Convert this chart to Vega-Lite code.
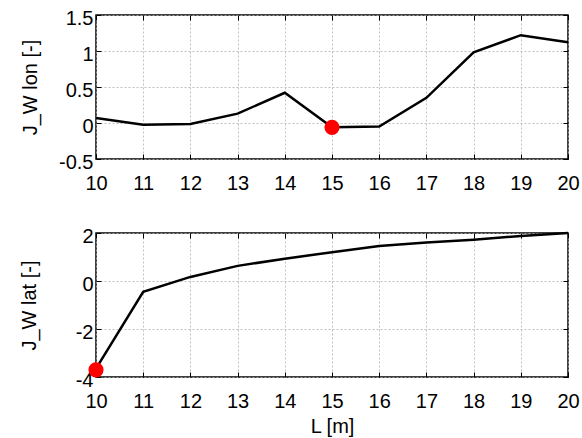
{
  "$schema": "https://vega.github.io/schema/vega-lite/v6.json",
  "background": "white",
  "padding": {"left": 18, "top": 7, "right": 5, "bottom": 2},
  "spacing": 31,
  "config": {
    "font": "Liberation Sans",
    "view": {"stroke": "black", "strokeWidth": 1.5},
    "axis": {
      "labelFont": "Liberation Sans", "labelFontSize": 20, "labelColor": "black",
      "titleFont": "Liberation Sans", "titleFontSize": 20, "titleFontWeight": "normal", "titleColor": "black",
      "domain": false, "tickColor": "black", "tickSize": -5, "tickWidth": 1,
      "grid": true, "gridColor": "#b0b0b0", "gridDash": [2, 2], "gridWidth": 0.8,
      "labelPadding": 9, "labelOverlap": false, "labelFlush": false, "labelBound": false, "tickCount": 30
    }
  },
  "datasets": {
    "lon": [
      {"L": 10, "J": 0.07}, {"L": 11, "J": -0.025}, {"L": 12, "J": -0.015},
      {"L": 13, "J": 0.13}, {"L": 14, "J": 0.42}, {"L": 15, "J": -0.06},
      {"L": 16, "J": -0.05}, {"L": 17, "J": 0.35}, {"L": 18, "J": 0.98},
      {"L": 19, "J": 1.22}, {"L": 20, "J": 1.12}
    ],
    "lat": [
      {"L": 10, "J": -3.65}, {"L": 11, "J": -0.45}, {"L": 12, "J": 0.17},
      {"L": 13, "J": 0.63}, {"L": 14, "J": 0.93}, {"L": 15, "J": 1.2},
      {"L": 16, "J": 1.46}, {"L": 17, "J": 1.6}, {"L": 18, "J": 1.72},
      {"L": 19, "J": 1.88}, {"L": 20, "J": 2.0}
    ],
    "lonMin": [{"L": 15, "J": -0.06}],
    "latMin": [{"L": 10, "J": -3.7}]
  },
  "vconcat": [
    {
      "width": 472, "height": 144,
      "resolve": {"axis": {"x": "independent", "y": "independent"}},
      "layer": [
        {
          "data": {"name": "lon"},
          "mark": {"type": "line", "color": "black", "strokeWidth": 2.5},
          "encoding": {
            "x": {"field": "L", "type": "quantitative", "scale": {"domain": [10, 20], "nice": false, "zero": false},
                  "axis": {"values": [10,11,12,13,14,15,16,17,18,19,20], "format": "~g", "tickCount": 30, "title": null, "labelOverlap": false, "labelFlush": false, "labelPadding": 19}},
            "y": {"field": "J", "type": "quantitative", "scale": {"domain": [-0.5, 1.5], "nice": false, "zero": false},
                  "axis": {"values": [-0.5, 0, 0.5, 1, 1.5], "format": "~g", "labelExpr": "replace(datum.label, '\u2212', '-')", "tickCount": 30, "title": "J_W lon [-]", "titlePadding": 18, "labelOverlap": false, "labelFlush": false, "labelPadding": 8, "labelOffset": 3}}
          }
        },
        {
          "data": {"name": "lonMin"},
          "mark": {"type": "point", "filled": true, "color": "red", "opacity": 1, "size": 230},
          "encoding": {
            "x": {"field": "L", "type": "quantitative",
                  "axis": {"orient": "top", "values": [10,11,12,13,14,15,16,17,18,19,20], "tickCount": 30, "labels": false, "grid": false, "title": null}},
            "y": {"field": "J", "type": "quantitative",
                  "axis": {"orient": "right", "values": [-0.5, 0, 0.5, 1, 1.5], "tickCount": 30, "labels": false, "grid": false, "title": null}}
          }
        }
      ]
    },
    {
      "width": 472, "height": 144,
      "resolve": {"axis": {"x": "independent", "y": "independent"}},
      "layer": [
        {
          "data": {"name": "lat"},
          "mark": {"type": "line", "color": "black", "strokeWidth": 2.5},
          "encoding": {
            "x": {"field": "L", "type": "quantitative", "scale": {"domain": [10, 20], "nice": false, "zero": false},
                  "axis": {"values": [10,11,12,13,14,15,16,17,18,19,20], "format": "~g", "tickCount": 30, "title": "L [m]", "titlePadding": 5, "labelOverlap": false, "labelFlush": false, "labelPadding": 19}},
            "y": {"field": "J", "type": "quantitative", "scale": {"domain": [-4, 2], "nice": false, "zero": false},
                  "axis": {"values": [-4, -2, 0, 2], "format": "~g", "labelExpr": "replace(datum.label, '\u2212', '-')", "tickCount": 30, "title": "J_W lat [-]", "titlePadding": 36, "labelOverlap": false, "labelFlush": false, "labelPadding": 8, "labelOffset": 3}}
          }
        },
        {
          "data": {"name": "latMin"},
          "mark": {"type": "point", "filled": true, "color": "red", "opacity": 1, "size": 230, "clip": false},
          "encoding": {
            "x": {"field": "L", "type": "quantitative",
                  "axis": {"orient": "top", "values": [10,11,12,13,14,15,16,17,18,19,20], "tickCount": 30, "labels": false, "grid": false, "title": null}},
            "y": {"field": "J", "type": "quantitative",
                  "axis": {"orient": "right", "values": [-4, -2, 0, 2], "tickCount": 30, "labels": false, "grid": false, "title": null}}
          }
        }
      ]
    }
  ]
}
